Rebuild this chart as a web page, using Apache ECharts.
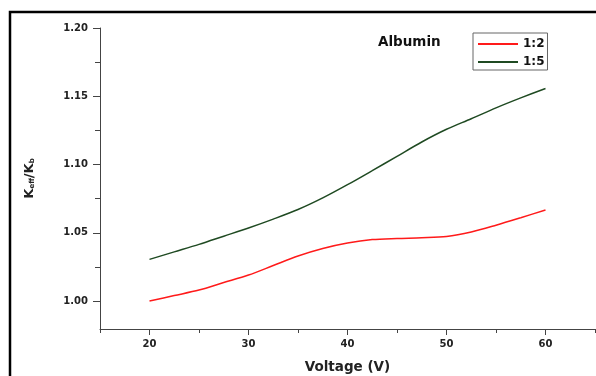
<!DOCTYPE html>
<html>
<head>
<meta charset="utf-8">
<script src="https://cdn.jsdelivr.net/npm/echarts@6/dist/echarts.min.js"></script>
<style>
  html, body { margin: 0; padding: 0; background: #ffffff; }
  #chart { width: 596px; height: 376px; }
</style>
</head>
<body>
<div id="chart"></div>
<script>
// Applied voltage (V)
const voltage = [20, 22.5, 25, 27.5, 30, 32.5, 35, 37.5, 40, 42.5, 45, 47.5, 50, 52.5, 55, 57.5, 60];
// Keff/Kb for albumin at ratio 1:2
const ratio12 = [1.000, 1.004, 1.008, 1.0135, 1.019, 1.026, 1.033, 1.0385, 1.0425, 1.045, 1.0458, 1.0463, 1.0472, 1.0505, 1.0555, 1.061, 1.0667];
// Keff/Kb for albumin at ratio 1:5
const ratio15 = [1.0305, 1.036, 1.0415, 1.0475, 1.0535, 1.060, 1.067, 1.0755, 1.0852, 1.0955, 1.106, 1.1165, 1.1258, 1.1335, 1.1415, 1.1488, 1.1557];

const seriesNames = ['1:2', '1:5'];
const xMajorTicks = [20, 30, 40, 50, 60];
const xMinorTicks = [15, 25, 35, 45, 55, 65];
const yMajorTicks = [1.00, 1.05, 1.10, 1.15, 1.20];
const yMinorTicks = [1.025, 1.075, 1.125, 1.175];

const FONT = 'DejaVu Sans';
const AXIS_COLOR = '#444';
const RED = '#ff1a1a';
const GREEN = '#1f4a22';

const pairs = (xs, ys) => xs.map((x, i) => [x, ys[i]]);

const chart = echarts.init(document.getElementById('chart'), null, { renderer: 'canvas' });

const labelStyle = { fontFamily: FONT, fontWeight: 'bold', fontSize: 10, color: '#222' };

chart.setOption({
  backgroundColor: '#ffffff',
  animation: false,
  grid: { left: 100, right: 1, top: 28, bottom: 47, containLabel: false, outerBoundsMode: 'none' },
  legend: {
    orient: 'vertical',
    left: 473,
    top: 33,
    padding: [4, 3, 1, 5],
    itemGap: 4,
    itemWidth: 40,
    itemHeight: 2,
    icon: 'rect',
    borderColor: '#666',
    borderWidth: 1,
    textStyle: { fontFamily: FONT, fontWeight: 'bold', fontSize: 12, color: '#111', lineHeight: 14 },
    data: seriesNames
  },
  xAxis: [
    {
      type: 'value', min: 15, max: 65, position: 'bottom',
      name: 'Voltage (V)', nameLocation: 'middle', nameGap: 31,
      nameTextStyle: { fontFamily: FONT, fontWeight: 'bold', fontSize: 13.5, color: '#222' },
      axisLine: { show: true, lineStyle: { color: AXIS_COLOR, width: 1 } },
      axisTick: { show: true, customValues: xMajorTicks, length: 6, lineStyle: { color: AXIS_COLOR, width: 1 } },
      axisLabel: Object.assign({ customValues: xMajorTicks, margin: 10 }, labelStyle),
      splitLine: { show: false }
    },
    {
      type: 'value', min: 15, max: 65, position: 'bottom',
      axisLine: { show: false },
      axisTick: { show: true, customValues: xMinorTicks, length: 4, lineStyle: { color: AXIS_COLOR, width: 1 } },
      axisLabel: { show: false },
      splitLine: { show: false }
    }
  ],
  yAxis: [
    {
      type: 'value', min: 0.9795, max: 1.20, position: 'left',
      name: 'K{sub|eff}/K{sub|b}', nameLocation: 'middle', nameGap: 64, nameRotate: 90,
      nameTextStyle: {
        fontFamily: FONT, fontWeight: 'bold', fontSize: 13, color: '#222',
        rich: { sub: { fontFamily: FONT, fontWeight: 'bold', fontSize: 7, color: '#222', verticalAlign: 'bottom', padding: [6, 0, 0, 0] } }
      },
      axisLine: { show: true, lineStyle: { color: AXIS_COLOR, width: 1 } },
      axisTick: { show: true, customValues: yMajorTicks, length: 7, lineStyle: { color: AXIS_COLOR, width: 1 } },
      axisLabel: Object.assign({ customValues: yMajorTicks, margin: 12, formatter: v => v.toFixed(2) }, labelStyle),
      splitLine: { show: false }
    },
    {
      type: 'value', min: 0.9795, max: 1.20, position: 'left',
      axisLine: { show: false },
      axisTick: { show: true, customValues: yMinorTicks, length: 5, lineStyle: { color: AXIS_COLOR, width: 1 } },
      axisLabel: { show: false },
      splitLine: { show: false }
    }
  ],
  series: [
    {
      name: seriesNames[0], type: 'line', xAxisIndex: 0, yAxisIndex: 0,
      data: pairs(voltage, ratio12), smooth: 0.3, symbol: 'none',
      lineStyle: { color: RED, width: 1.5 }, itemStyle: { color: RED }
    },
    {
      name: seriesNames[1], type: 'line', xAxisIndex: 0, yAxisIndex: 0,
      data: pairs(voltage, ratio15), smooth: 0.3, symbol: 'none',
      lineStyle: { color: GREEN, width: 1.5 }, itemStyle: { color: GREEN }
    }
  ],
  graphic: [
    {
      type: 'rect', silent: true,
      shape: { x: 10, y: 12, width: 700, height: 500 },
      style: { fill: 'none', stroke: '#000', lineWidth: 2.5 }
    },
    {
      type: 'text', silent: true, left: 378, top: 35,
      style: { text: 'Albumin', fontFamily: FONT, fontWeight: 'bold', fontSize: 13.5, fill: '#111' }
    }
  ]
});
</script>
</body>
</html>
